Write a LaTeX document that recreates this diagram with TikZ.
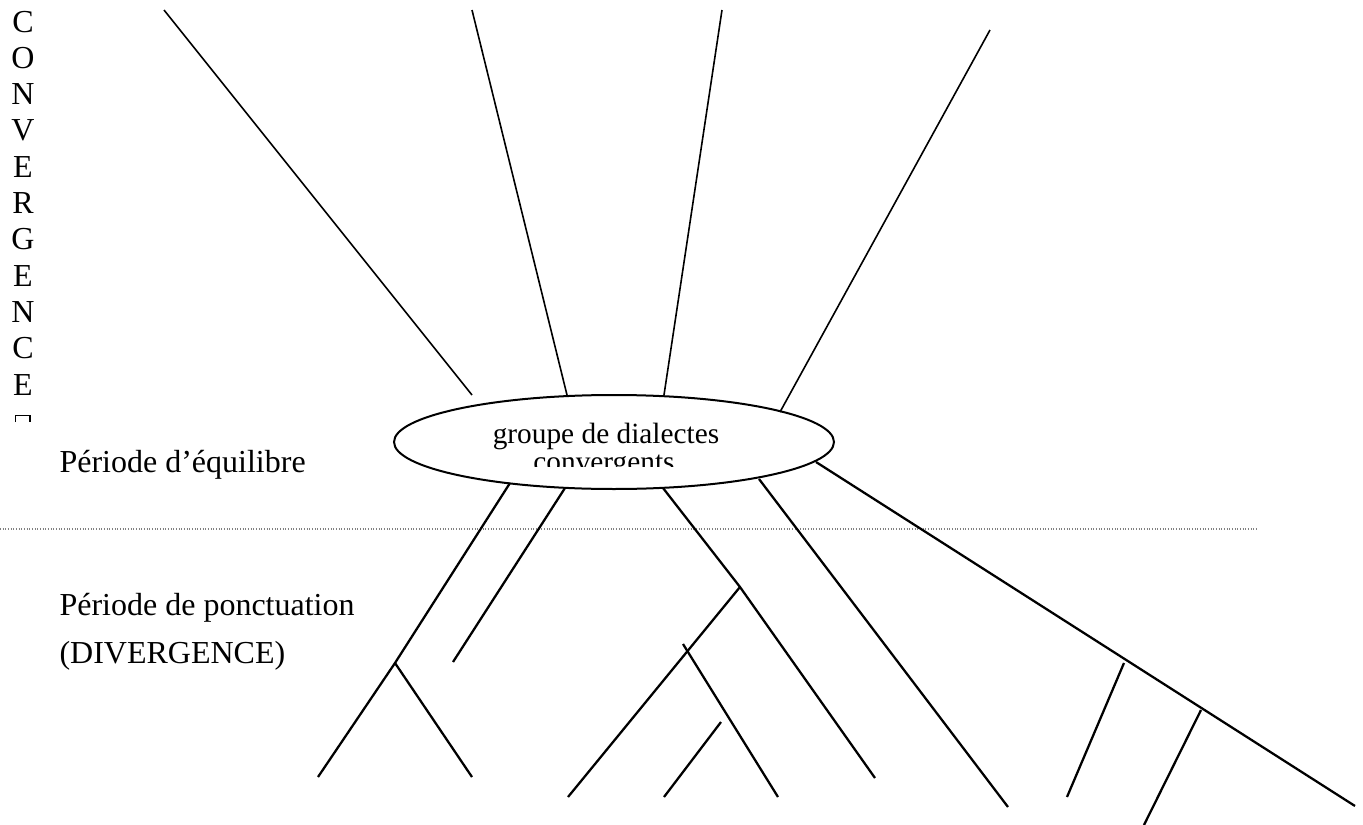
\documentclass[tikz,border=0pt]{standalone}
\usepackage{fontspec}
\setmainfont{Liberation Serif}
\usetikzlibrary{shapes.geometric}

\begin{document}
\begin{tikzpicture}[
    x=0.375pt, y=-0.375pt,
    % --- styles ---
    grp/.style={
            ellipse,
            draw,
            line width=0.75pt,
            minimum width=165pt,
            minimum height=35.25pt,
            inner sep=0pt
        },
    grpText/.style={
            anchor=base,
            inner sep=0pt,
            font=\fontsize{11}{13}\selectfont
        },
    letter/.style={
            anchor=base,
            inner sep=0pt,
            font=\fontsize{12}{14}\selectfont
        },
    lbl/.style={
            anchor=base west,
            inner sep=0pt,
            font=\fontsize{12}{14}\selectfont
        },
    convLine/.style={line width=0.6pt},
    branchLine/.style={line width=0.85pt},
    sepLine/.style={
            draw=gray,
            line width=0.45pt,
            dash pattern=on 0.4pt off 0.6pt
        }
    ]

    \useasboundingbox (0,0) rectangle (1363,825);

    % 1. Vertical word on the left
    \foreach \l [count=\k] in {C,O,N,V,E,R,G,E,N,C,E}
        \node[letter] (cv\k) at (23,{32+36.3*(\k-1)}) {\l};
    \draw[line width=0.45pt] (15.5,422) -- (15.5,415.5) -- (30,415.5) -- (30,422);

    % 2. Ellipse with clipped text
    \node[grp] (grp) at (614,442) {};
    \node[grpText] (grpL1) at (606,443) {groupe de dialectes};
    \begin{scope}
        \clip (0,0) rectangle (1363,466);
        \node[grpText] (grpL2) at (604,471) {convergents};
    \end{scope}

    % 3. Period labels and separator
    \node[lbl] (equil) at (59,472) {Période d’équilibre};
    \node[lbl] (ponct) at (59,615) {Période de ponctuation};
    \node[lbl] (diverg) at (59,663) {(DIVERGENCE)};
    \coordinate (sepL) at (0,529);
    \coordinate (sepR) at (1258,529);
    \draw[sepLine] (sepL) -- (sepR);

    % 4. Converging lines (above)
    \coordinate (t1) at (164,10);  \coordinate (e1) at (472,395);
    \coordinate (t2) at (472,10);  \coordinate (e2) at (567,395);
    \coordinate (t3) at (722,10);  \coordinate (e3) at (664,395);
    \coordinate (t4) at (990,30);  \coordinate (e4) at (780,412);
    \draw[convLine] (t1) -- (e1);
    \draw[convLine] (t2) -- (e2);
    \draw[convLine] (t3) -- (e3);
    \draw[convLine] (t4) -- (e4);

    % 5. Diverging branches (below)
    \coordinate (s1) at (510,483);
    \coordinate (j1) at (395,663);
    \coordinate (s2) at (565,488);
    \coordinate (s3) at (663,488);
    \coordinate (j2) at (740,587);
    \coordinate (s4) at (759,479);
    \coordinate (s5) at (816,462);
    \draw[branchLine] (s1) -- (j1) -- (318,777);
    \draw[branchLine] (j1) -- (472,777);
    \draw[branchLine] (s2) -- (453,662);
    \draw[branchLine] (s3) -- (j2) -- (875,778);
    \draw[branchLine] (j2) -- (568,797);
    \draw[branchLine] (683,644) -- (778,797);
    \draw[branchLine] (721,722) -- (664,797);
    \draw[branchLine] (s4) -- (1008,807);
    \draw[branchLine] (s5) -- (1355,806);
    \draw[branchLine] (1124,663) -- (1067,797);
    \draw[branchLine] (1201,710) -- (1144,825);

\end{tikzpicture}
\end{document}
